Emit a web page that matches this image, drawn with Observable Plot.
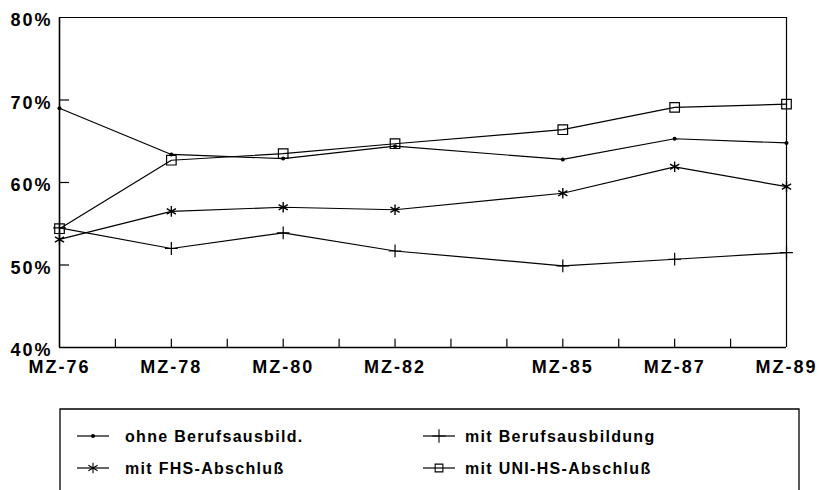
<!DOCTYPE html>
<html><head><meta charset="utf-8">
<script src="https://cdn.jsdelivr.net/npm/d3@7"></script>
<script src="https://cdn.jsdelivr.net/npm/@observablehq/plot@0.6"></script>
<style>
body{margin:0;background:#fff;overflow:hidden;width:819px;height:490px;position:relative;font-family:"Liberation Sans",Arial,sans-serif;}
#legend{position:absolute;left:59px;top:408px;}
</style></head><body>
<div id="chart"></div>
<div id="legend"></div>
<script>
const years = [76, 78, 80, 82, 85, 87, 89];
const tickYears = [77, 78, 79, 80, 81, 82, 83, 84, 85, 86, 87, 88];
const xLabels = ["MZ-76", "MZ-78", "MZ-80", "MZ-82", "MZ-85", "MZ-87", "MZ-89"];
const yTicks = [40, 50, 60, 70, 80];
const yLabels = ["40%", "50%", "60%", "70%", "80%"];
const seriesNames = ["ohne Berufsausbild.", "mit Berufsausbildung", "mit FHS-Abschluß", "mit UNI-HS-Abschluß"];
const ohne = [69.0, 63.4, 62.9, 64.4, 62.8, 65.3, 64.8];
const beruf = [54.5, 52.0, 53.9, 51.7, 49.9, 50.7, 51.5];
const fhs = [53.1, 56.5, 57.0, 56.7, 58.7, 61.9, 59.5];
const uni = [54.4, 62.7, 63.5, 64.7, 66.4, 69.1, 69.5];

const values = [ohne, beruf, fhs, uni];
const data = [];
values.forEach((arr, s) => arr.forEach((v, i) => data.push({series: seriesNames[s], year: years[i], value: v})));
const of = s => data.filter(d => d.series === seriesNames[s]);

const font = {fontFamily: "Liberation Sans, Arial, sans-serif", fontWeight: "bold", fill: "black"};

const plot = Plot.plot({
  width: 819, height: 400,
  marginLeft: 59, marginRight: 33, marginTop: 17, marginBottom: 53,
  x: {domain: [76, 89], axis: null},
  y: {domain: [40, 80], axis: null},
  marks: [
    Plot.ruleX(tickYears, {x: d => d, y1: 40, y2: 41, stroke: "black", strokeWidth: 1.2}),
    Plot.ruleY([50, 60, 70], {y: d => d, x1: 76, x2: 76.18, stroke: "black", strokeWidth: 1.2}),
    Plot.ruleY([80], {stroke: "black", strokeWidth: 1.2}),
    Plot.ruleX([89], {stroke: "black", strokeWidth: 1.2}),
    Plot.ruleY([40], {stroke: "black", strokeWidth: 1.6}),
    Plot.ruleX([76], {stroke: "black", strokeWidth: 1.6}),
    Plot.line(data, {x: "year", y: "value", z: "series", stroke: "black", strokeWidth: 1.2}),
    Plot.dot(of(0), {x: "year", y: "value", r: 2, fill: "black", stroke: "none"}),
    Plot.dot(of(1), {x: "year", y: "value", symbol: "plus", r: 4.2, fill: "none", stroke: "black", strokeWidth: 1.2}),
    Plot.dot(of(2), {x: "year", y: "value", symbol: "asterisk", r: 5, fill: "none", stroke: "black", strokeWidth: 1.4}),
    Plot.dot(of(3), {x: "year", y: "value", symbol: "square", r: 5.4, fill: "none", stroke: "black", strokeWidth: 1.2}),
    Plot.text(years, {x: d => d, y: 40, text: (d, i) => xLabels[i], dy: 20, fontSize: 18, ...font}),
    Plot.text(yTicks, {x: 76, y: d => d, text: (d, i) => yLabels[i], dx: -7, dy: 3, textAnchor: "end", fontSize: 18, ...font})
  ]
});
document.getElementById("chart").appendChild(plot);
plot.querySelectorAll("g[aria-label=text] text").forEach(t => t.style.letterSpacing = "2px");

// Legend
const lg = d3.select("#legend").append("svg").attr("width", 760).attr("height", 82);
lg.append("path").attr("d", "M1,82V1H740V82").attr("fill", "none").attr("stroke", "black").attr("stroke-width", 1.3);
const items = [
  {x: 18, y: 28, sym: "dot"}, {x: 364, y: 28, sym: d3.symbolPlus, size: 60},
  {x: 18, y: 60, sym: d3.symbolAsterisk, size: 80}, {x: 364, y: 60, sym: d3.symbolSquare, size: 60}
];
items.forEach((it, i) => {
  const g = lg.append("g").attr("transform", `translate(${it.x},${it.y})`);
  g.append("line").attr("x1", 0).attr("x2", 32).attr("stroke", "black").attr("stroke-width", 1.2);
  if (it.sym === "dot") g.append("circle").attr("cx", 16).attr("r", 2).attr("fill", "black");
  else g.append("path").attr("transform", "translate(16,0)").attr("d", d3.symbol(it.sym, it.size)()).attr("fill", "none").attr("stroke", "black").attr("stroke-width", 1.1);
  g.append("text").attr("x", i % 2 === 0 ? 48 : 42).attr("y", 6).text(seriesNames[i])
    .attr("font-family", "Liberation Sans, Arial, sans-serif").attr("font-weight", "bold").attr("font-size", 16).attr("letter-spacing", "1.3px");
});
</script>
</body></html>
